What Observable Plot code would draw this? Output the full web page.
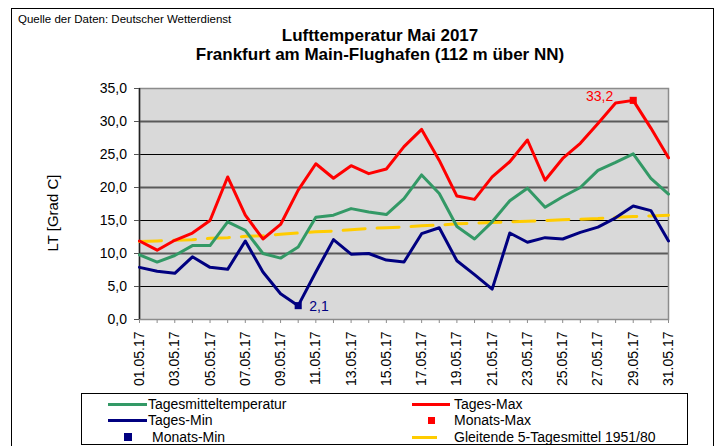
<!DOCTYPE html>
<html>
<head>
<meta charset="utf-8">
<script src="https://cdn.jsdelivr.net/npm/d3@7"></script>
<script src="https://cdn.jsdelivr.net/npm/@observablehq/plot@0.6"></script>
<style>
  body { margin: 0; background: #fff; font-family: "Liberation Sans", Arial, sans-serif; }
  #wrap { position: relative; width: 720px; height: 446px; overflow: hidden; background: #fff; }
  #frame { position: absolute; left: 11px; top: 8px; width: 703px; height: 470px; border: 1px solid #000; box-sizing: border-box; }
  .abs { position: absolute; white-space: nowrap; }
  #source { left: 18px; top: 14px; font-size: 11.5px; line-height: 11.5px; color: #000; }
  #title { left: 0; top: 25.8px; width: 760px; text-align: center; font-weight: bold; font-size: 17px; line-height: 19.6px; color: #000; }
  #ylabel { left: -7px; top: 204px; width: 120px; text-align: center; font-size: 15px; line-height: 18px; transform: rotate(-90deg); transform-origin: 60px 9px; }
  #legend { left: 81px; top: 393px; width: 607px; height: 52px; border: 1px solid #000; box-sizing: border-box; background: #fff; }
  .ltxt { font-size: 14px; line-height: 16px; color: #000; }
</style>
</head>
<body>
<div id="wrap">
  <div id="frame"></div>
  <div id="source" class="abs">Quelle der Daten: Deutscher Wetterdienst</div>
  <div id="title" class="abs">Lufttemperatur Mai 2017<br>Frankfurt am Main-Flughafen (112 m über NN)</div>
  <div id="ylabel" class="abs">LT [Grad C]</div>
  <div id="legend" class="abs"></div>
</div>
<script>
// ---- data ----
const dayLabels = ["01.05.17","02.05.17","03.05.17","04.05.17","05.05.17","06.05.17","07.05.17","08.05.17",
  "09.05.17","10.05.17","11.05.17","12.05.17","13.05.17","14.05.17","15.05.17","16.05.17","17.05.17",
  "18.05.17","19.05.17","20.05.17","21.05.17","22.05.17","23.05.17","24.05.17","25.05.17","26.05.17",
  "27.05.17","28.05.17","29.05.17","30.05.17","31.05.17"];
const meanT = [9.8, 8.7, 9.7, 11.2, 11.2, 14.8, 13.5, 10.0, 9.3, 11.0, 15.5, 15.8, 16.8, 16.3, 15.9, 18.3,
  21.9, 19.1, 14.1, 12.2, 14.8, 18.0, 19.9, 17.0, 18.6, 20.0, 22.6, 23.8, 25.1, 21.4, 19.0];
const maxT = [11.9, 10.5, 12.0, 13.1, 15.0, 21.6, 15.8, 12.2, 14.4, 19.6, 23.6, 21.4, 23.3, 22.1, 22.8, 26.2,
  28.8, 24.1, 18.7, 18.2, 21.6, 23.9, 27.2, 21.1, 24.4, 26.7, 29.7, 32.8, 33.2, 29.0, 24.5];
const minT = [7.9, 7.3, 7.0, 9.5, 7.9, 7.6, 11.9, 7.2, 3.9, 2.1, 7.2, 12.1, 9.9, 10.0, 9.0, 8.7,
  13.0, 13.9, 8.9, 6.8, 4.6, 13.1, 11.7, 12.4, 12.2, 13.2, 14.0, 15.4, 17.2, 16.5, 11.9];
const climT = [11.8, 11.9, 12.0, 12.1, 12.3, 12.4, 12.6, 12.7, 12.9, 13.1, 13.3, 13.4, 13.6, 13.8, 13.9, 14.0,
  14.2, 14.3, 14.5, 14.6, 14.7, 14.8, 14.9, 15.0, 15.1, 15.2, 15.3, 15.5, 15.6, 15.7, 15.8];
const yTicks = [0, 5, 10, 15, 20, 25, 30, 35];
const majorGrid = [10, 20, 30];
const minorGrid = [5, 15, 25];
const seriesNames = ["Tagesmitteltemperatur", "Tages-Max", "Tages-Min", "Monats-Max", "Monats-Min", "Gleitende 5-Tagesmittel 1951/80"];
const colMean = "#339966", colMax = "#FF0000", colMin = "#000080", colClim = "#FFCC00";

// ---- build ----
const fmt = v => v.toFixed(1).replace(".", ",");
const dayNums = dayLabels.map((d, i) => i + 1);
const rows = dayLabels.map((d, i) => ({day: i + 1, mean: meanT[i], max: maxT[i], min: minT[i], clim: climT[i]}));
const iMax = d3.maxIndex(maxT), iMin = d3.minIndex(minT);
const monMax = [{day: iMax + 1, v: maxT[iMax]}];
const monMin = [{day: iMin + 1, v: minT[iMin]}];

const chart = Plot.plot({
  width: 720, height: 392,
  marginLeft: 139, marginRight: 52, marginTop: 88, marginBottom: 73,
  style: {fontFamily: "'Liberation Sans', Arial, sans-serif", fontSize: "14px", background: "transparent", color: "#000", overflow: "visible"},
  x: {domain: [1, dayLabels.length]},
  y: {domain: [0, 35]},
  marks: [
    Plot.frame({fill: "#D9D9D9", stroke: "none"}),
    Plot.ruleY(minorGrid, {stroke: "#000", strokeWidth: 1}),
    Plot.ruleY(majorGrid, {stroke: "#5a5a5a", strokeWidth: 2}),
    Plot.frame({fill: "none", stroke: "#8c8c8c", strokeWidth: 1.5}),
    Plot.ruleX([1], {stroke: "#222", strokeWidth: 1.5}),
    Plot.axisY({ticks: yTicks, tickSize: 5, tickPadding: 7.5, tickFormat: fmt, label: null, stroke: "#555"}),
    Plot.axisX({ticks: dayNums, tickSize: 4, tickFormat: () => "", label: null, stroke: "#8c8c8c"}),
    Plot.axisX({ticks: dayNums.filter(d => d % 2 === 1), tickSize: 0, tickPadding: 12, tickRotate: -90,
      tickFormat: d => dayLabels[d - 1], label: null}),
    Plot.line(rows, {x: "day", y: "clim", stroke: colClim, strokeWidth: 3, strokeDasharray: "22,12"}),
    Plot.line(rows, {x: "day", y: "mean", stroke: colMean, strokeWidth: 3, strokeLinejoin: "round"}),
    Plot.line(rows, {x: "day", y: "max", stroke: colMax, strokeWidth: 3, strokeLinejoin: "round"}),
    Plot.line(rows, {x: "day", y: "min", stroke: colMin, strokeWidth: 3, strokeLinejoin: "round"}),
    Plot.dot(monMax, {x: "day", y: "v", symbol: "square", r: 4, fill: colMax, stroke: "none"}),
    Plot.dot(monMin, {x: "day", y: "v", symbol: "square", r: 4, fill: colMin, stroke: "none"}),
    Plot.text(monMax, {x: "day", y: "v", text: d => fmt(d.v), fill: colMax, textAnchor: "end", dx: -20, dy: -4, fontSize: 14}),
    Plot.text(monMin, {x: "day", y: "v", text: d => fmt(d.v), fill: colMin, textAnchor: "start", dx: 11, dy: 1, fontSize: 14})
  ]
});
chart.style.position = "absolute";
chart.style.left = "0px";
chart.style.top = "0px";
const wrap = document.getElementById("wrap");
wrap.insertBefore(chart, document.getElementById("legend"));

// ---- legend ----
const legendItems = [
  {name: seriesNames[0], type: "line", color: colMean, sx: 108, sw: 39, tx: 148, y: 404},
  {name: seriesNames[1], type: "line", color: colMax, sx: 412, sw: 38, tx: 454, y: 404},
  {name: seriesNames[2], type: "line", color: colMin, sx: 108, sw: 39, tx: 148, y: 420},
  {name: seriesNames[3], type: "square", color: colMax, sx: 428, sw: 7, tx: 454, y: 420},
  {name: seriesNames[4], type: "square", color: colMin, sx: 124, sw: 8, tx: 152, y: 437},
  {name: seriesNames[5], type: "line", color: colClim, sx: 412, sw: 25, tx: 454, y: 437}
];
for (const it of legendItems) {
  const s = document.createElement("div");
  s.className = "abs";
  s.style.left = it.sx + "px";
  s.style.width = it.sw + "px";
  s.style.background = it.color;
  if (it.type === "line") { s.style.top = (it.y - 1.5) + "px"; s.style.height = "3px"; }
  else { s.style.top = (it.y - it.sw / 2) + "px"; s.style.height = it.sw + "px"; }
  wrap.appendChild(s);
  const t = document.createElement("div");
  t.className = "abs ltxt";
  t.style.left = it.tx + "px";
  t.style.top = (it.y - 7.7) + "px";
  t.textContent = it.name;
  wrap.appendChild(t);
}
</script>
</body>
</html>
